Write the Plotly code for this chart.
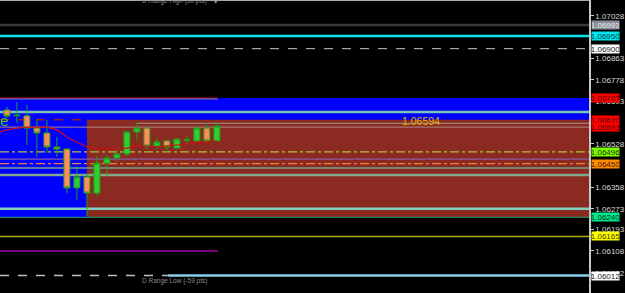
import plotly.graph_objects as go

# ---------------- data ----------------
candle_idx = list(range(22))
opens  = [1.06660, 1.06640, 1.06637, 1.06589, 1.06570, 1.06515, 1.06507, 1.06355, 1.06398, 1.06335, 1.06452,
          1.06472, 1.06488, 1.06574, 1.06589, 1.06519, 1.06539, 1.06511, 1.06542, 1.06539, 1.06589, 1.06539]
highs  = [1.06672, 1.06691, 1.06680, 1.06625, 1.06621, 1.06554, 1.06511, 1.06441, 1.06413, 1.06480, 1.06484,
          1.06511, 1.06578, 1.06609, 1.06590, 1.06554, 1.06540, 1.06548, 1.06562, 1.06597, 1.06609, 1.06609]
lows   = [1.06629, 1.06609, 1.06523, 1.06476, 1.06492, 1.06476, 1.06335, 1.06308, 1.06245, 1.06323, 1.06405,
          1.06460, 1.06480, 1.06542, 1.06507, 1.06507, 1.06496, 1.06509, 1.06523, 1.06538, 1.06531, 1.06537]
closes = [1.06636, 1.06638, 1.06589, 1.06570, 1.06515, 1.06507, 1.06355, 1.06398, 1.06335, 1.06452, 1.06472,
          1.06488, 1.06574, 1.06589, 1.06519, 1.06535, 1.06515, 1.06546, 1.06543, 1.06589, 1.06539, 1.06597]

ma_x = [-0.7, 0, 1, 2, 3, 4, 5, 6, 7, 8, 9, 10, 11, 12, 13, 14, 15, 16, 17, 18, 19, 20, 21]
ma_y = [1.06574, 1.06582, 1.06589, 1.06593, 1.06593, 1.06593, 1.06582, 1.06554, 1.06535, 1.06515, 1.06511,
        1.06507, 1.06507, 1.06511, 1.06519, 1.06519, 1.06515, 1.06519, 1.06523, 1.06527, 1.06531, 1.06535, 1.06539]

# zones: (bottom, top, x start)
blue_zone = [1.06240, 1.06707]
brown_zone = [1.06240, 1.06622]
brown_start = 8

# horizontal levels
level_prices = [1.06993, 1.06950, 1.06900, 1.06707, 1.06703, 1.06652, 1.06622, 1.06608, 1.06593,
                1.06496, 1.06468, 1.06450, 1.06433, 1.06405, 1.06273, 1.06240, 1.06165, 1.06108,
                1.06012, 1.06012]
level_x0 = [None, None, None, None, None, None, None, 13, None,
            None, None, None, None, None, None, None, None, None,
            None, 16.1]
level_x1 = [None, None, None, 21.1, 21.1, None, 8, None, None,
            None, None, None, None, None, None, None, None, 21.1,
            16.1, None]

# right-axis tick labels
tick_vals = [1.07028, 1.06863, 1.06778, 1.06693, 1.06528, 1.06358, 1.06273, 1.06193, 1.06108, 1.06022, 1.05938]
tick_text = ["1.07028", "1.06863", "1.06778", "1.06693", "1.06528", "1.06358", "1.06273", "1.06193",
             "1.06108", "1.06022", "1.05938"]

# price tags on the right axis
tag_prices = [1.06993, 1.06950, 1.06900, 1.06707, 1.06620, 1.06593, 1.06496, 1.06450, 1.06240, 1.06165, 1.06012]
tag_text = ["1.06993", "1.06950", "1.06900", "1.06707", "1.06620", "1.06593", "1.06496", "1.06450",
            "1.06240", "1.06165", "1.06012"]

mid_label_x = 41.4
mid_label_price = 1.06594
mid_label_text = "1.06594"

# ---------------- styles ----------------
level_styles = [
    dict(color="#3a3a3a", width=2.5, dash="solid"),
    dict(color="#00e5ee", width=2.5, dash="solid"),
    dict(color="#c8c8c8", width=1, dash="dash"),
    dict(color="#c00000", width=1, dash="solid"),
    dict(color="#8a8a9a", width=1, dash="solid"),
    dict(color="#78c8b4", width=2.5, dash="solid"),
    dict(color="#a01818", width=1.5, dash="dash"),
    dict(color="#a09898", width=1, dash="solid"),
    dict(color="#b08888", width=1, dash="solid"),
    dict(color="#b4c040", width=1.3, dash="dashdot"),
    dict(color="#8a5aa0", width=1.3, dash="solid"),
    dict(color="#f08030", width=1.3, dash="dashdot"),
    dict(color="#70a090", width=1.5, dash="solid"),
    dict(color="#80a888", width=2.5, dash="solid"),
    dict(color="#80d0c0", width=2.5, dash="solid"),
    dict(color="#20a070", width=1, dash="solid"),
    dict(color="#b0b000", width=1.5, dash="solid"),
    dict(color="#a000a0", width=1.3, dash="solid"),
    dict(color="#c0c0c0", width=1.5, dash="dash"),
    dict(color="#87ceeb", width=2.5, dash="solid"),
]
tag_bg = ["#8a9099", "#00e5ee", "#ffffff", "#ff0000", "#ff0000", "#ff0000", "#7cfc00", "#ff8c00",
          "#00e68a", "#ffff00", "#ffffff"]
tag_fg = ["#e8e8e8", "#004040", "#202020", "#500000", "#500000", "#500000", "#203000", "#402000",
          "#003020", "#404000", "#202020"]

X_RANGE = [-0.693, 58.22]
Y_RANGE = [1.059435, 1.070906]

fig = go.Figure()

shapes = []
# zones
shapes.append(dict(type="rect", xref="paper", yref="y", x0=0, x1=1, y0=blue_zone[0], y1=blue_zone[1],
                   fillcolor="#0000ff", line=dict(width=0), layer="below"))
shapes.append(dict(type="rect", xref="x", yref="y", x0=brown_start, x1=X_RANGE[1], y0=brown_zone[0],
                   y1=brown_zone[1], fillcolor="#8a2a20", line=dict(width=0), layer="below"))

for p, a, b, st in zip(level_prices, level_x0, level_x1, level_styles):
    x0 = X_RANGE[0] if a is None else a
    x1 = X_RANGE[1] if b is None else b
    shapes.append(dict(type="line", xref="x", yref="y", x0=x0, x1=x1, y0=p, y1=p,
                       line=dict(color=st["color"], width=st["width"], dash=st["dash"]), layer="below"))

# frame top line
shapes.append(dict(type="line", xref="paper", yref="paper", x0=0, x1=1, y0=1, y1=1,
                   line=dict(color="#a8a8a8", width=2)))

fig.add_trace(go.Scatter(x=ma_x, y=ma_y, mode="lines", line=dict(color="#d01010", width=1.2),
                         hoverinfo="skip", showlegend=False))

fig.add_trace(go.Candlestick(
    x=candle_idx, open=opens, high=highs, low=lows, close=closes,
    increasing=dict(fillcolor="#32cd32", line=dict(color="#1fa01f", width=1)),
    decreasing=dict(fillcolor="#ff8c5a", line=dict(color="#1fa01f", width=1)),
    whiskerwidth=0, showlegend=False))

annotations = []
for p, t, bg, fg in zip(tag_prices, tag_text, tag_bg, tag_fg):
    annotations.append(dict(xref="paper", yref="y", x=1, y=p, xanchor="left", yanchor="middle",
                            xshift=2, text=t, showarrow=False, bgcolor=bg, width=27, height=8,
                            borderpad=0, font=dict(family="Liberation Sans", size=8, color=fg)))

annotations.append(dict(xref="x", yref="y", x=mid_label_x, y=mid_label_price, text=mid_label_text,
                        showarrow=False, xanchor="center", yanchor="bottom", yshift=-2,
                        font=dict(family="Liberation Sans", size=10.5, color="#e0b400")))
annotations.append(dict(xref="paper", yref="paper", x=0.296, y=1, xanchor="center", yanchor="middle",
                        yshift=-1, text="D Range High (30 pts)", showarrow=False,
                        font=dict(family="Liberation Sans", size=6.5, color="#8a8a8a")))
annotations.append(dict(xref="paper", yref="paper", x=0.366, y=1, xanchor="center", yanchor="middle",
                        yshift=-1, text="▼", showarrow=False,
                        font=dict(family="DejaVu Sans", size=7, color="#a0a0a0")))
annotations.append(dict(xref="paper", yref="y", x=0.296, y=1.05990, xanchor="center", yanchor="middle",
                        text="D Range Low (-59 pts)", showarrow=False,
                        font=dict(family="Liberation Sans", size=6.5, color="#8a8a8a")))
annotations.append(dict(xref="paper", yref="y", x=0, y=1.06617, xanchor="left", xshift=-2,
                        yanchor="middle", text="e", showarrow=False,
                        font=dict(family="DejaVu Sans Mono", size=14, color="#32d232")))

fig.update_layout(
    width=625, height=293,
    margin=dict(l=0, r=30, t=0, b=0),
    paper_bgcolor="#000000", plot_bgcolor="#000000",
    showlegend=False,
    shapes=shapes, annotations=annotations,
    boxgap=0.25, boxgroupgap=0.2,
    xaxis=dict(range=X_RANGE, showgrid=False, zeroline=False, showticklabels=False,
               rangeslider=dict(visible=False), fixedrange=True),
    yaxis=dict(range=Y_RANGE, side="right", showgrid=False, zeroline=False,
               tickvals=tick_vals, ticktext=tick_text, ticks="outside", ticklen=3,
               tickcolor="#c8c8c8", showline=True, linecolor="#c8c8c8", linewidth=1.5,
               tickfont=dict(family="Liberation Sans", size=8, color="#d8d8d8")),
)

fig.write_html("out.html")
